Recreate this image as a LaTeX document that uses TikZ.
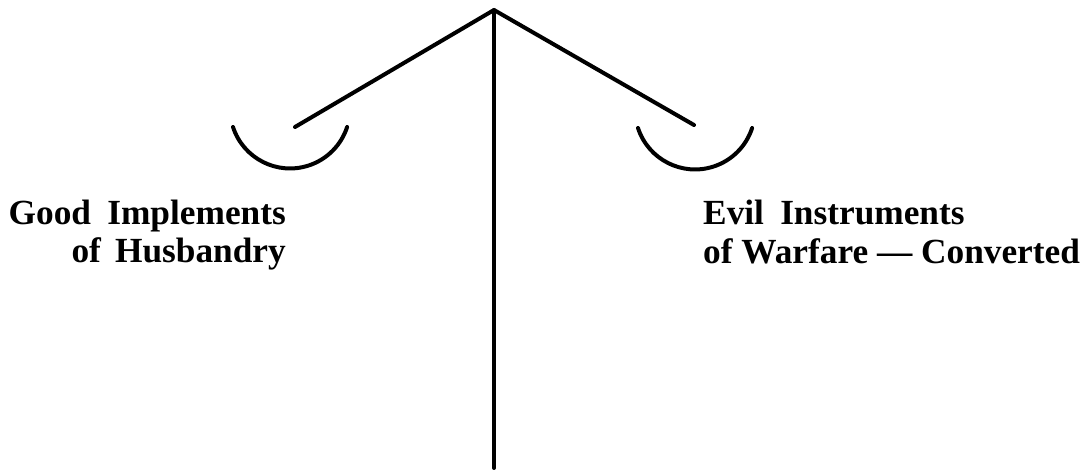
\documentclass[tikz,border=0pt]{standalone}
\usepackage{fontspec}
\setmainfont{Liberation Serif}
\newcommand\lblfont{\fontsize{35.3}{38}\selectfont\bfseries}
\newcommand\widesp{\spaceskip=0.46em\relax}
\newcommand\midsp{\spaceskip=0.4em\relax}
\begin{document}
\begin{tikzpicture}[x=1pt,y=-1pt,
  beam/.style={line width=4pt,line join=round,line cap=round},
  bowl/.style={line width=4pt,line cap=round},
  lbl/.style={inner sep=0pt,font=\lblfont}]
\useasboundingbox (0,0) rectangle (1087,470);
\coordinate (apex) at (494,10);
\coordinate (foot) at (494,468);
\coordinate (lend) at (295,127);
\coordinate (rend) at (694,125);
\coordinate (lbowl) at (233,127);
\coordinate (rbowl) at (638,128);
\draw[beam] (lend) -- (apex) -- (rend);
\draw[beam] (apex) -- (foot);
\draw[bowl] (lbowl) arc[start angle=162,end angle=18,radius=60];
\draw[bowl] (rbowl) arc[start angle=162,end angle=18,radius=60];
\node[lbl,anchor=base east] (g1) at (286,225) {\widesp Good Implements};
\node[lbl,anchor=base east] (g2) at (286,263) {\midsp of Husbandry};
\node[lbl,anchor=base west] (e1) at (703,225) {\widesp Evil Instruments};
\node[lbl,anchor=base west] (e2) at (703,264) {of Warfare — Converted};
\end{tikzpicture}
\end{document}
